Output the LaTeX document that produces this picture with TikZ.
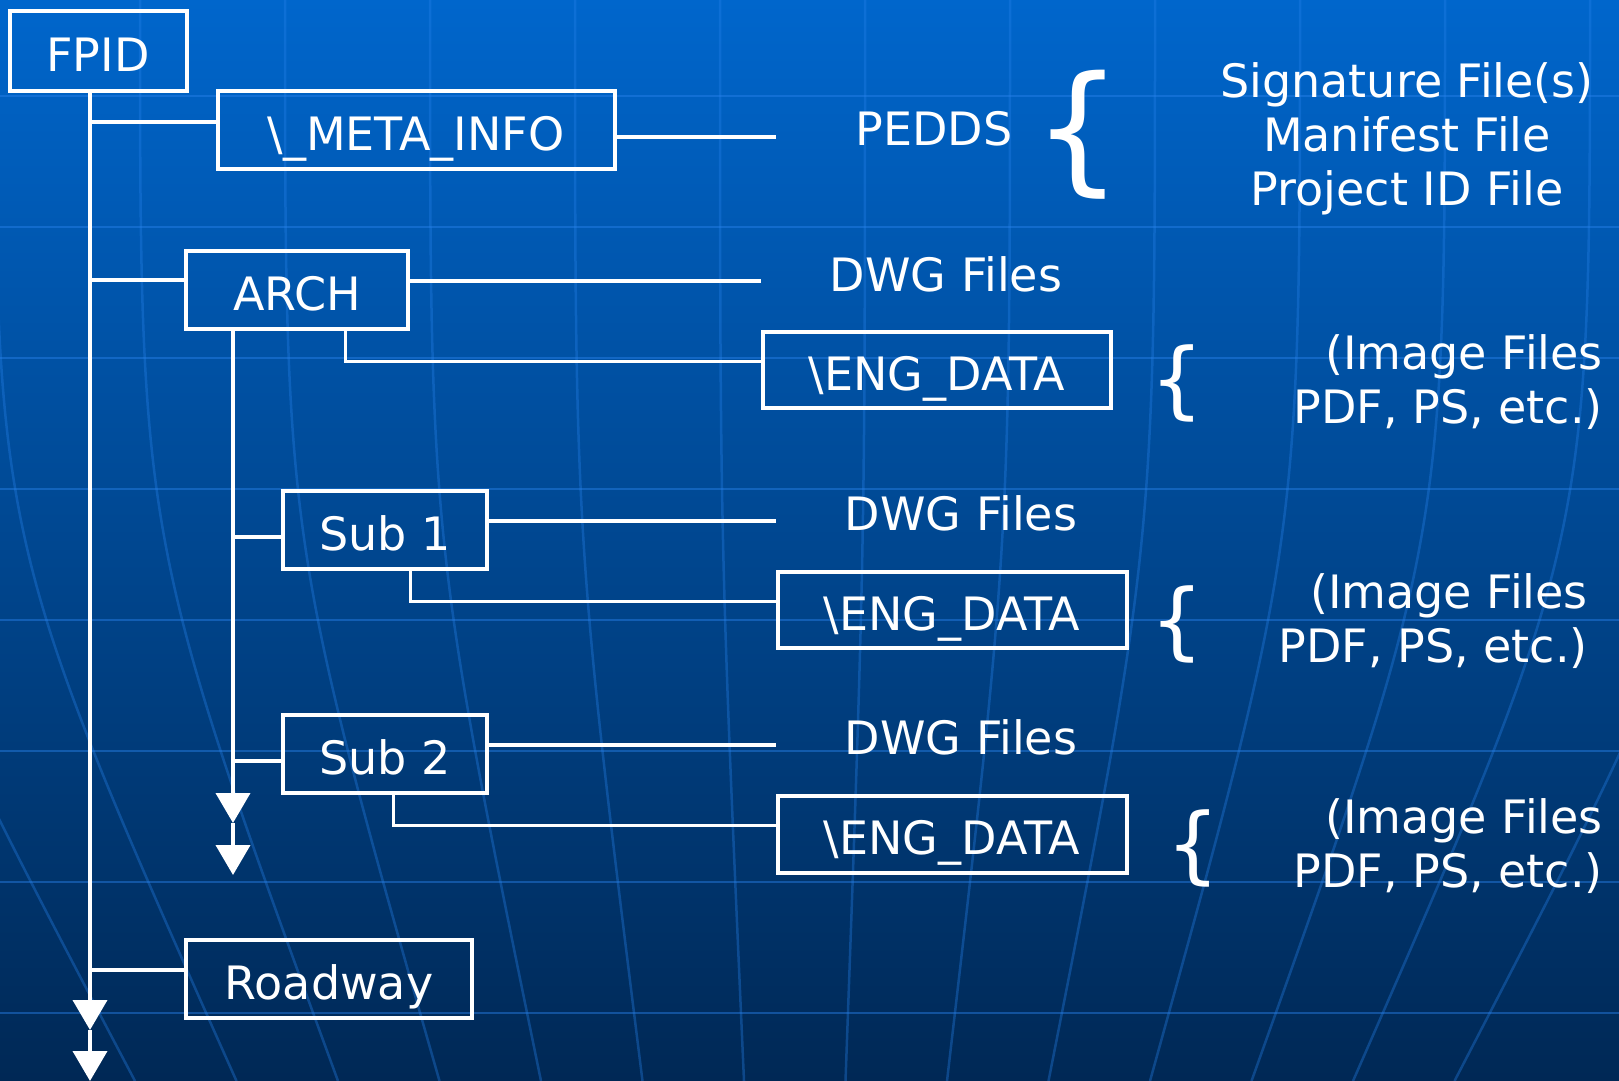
\documentclass[tikz,border=0pt]{standalone}
\usepackage{fontspec}
\setmainfont{DejaVu Sans}
\usetikzlibrary{arrows.meta}

\definecolor{bgtop}{RGB}{0,102,204}
\definecolor{bgmid}{RGB}{0,72,150}
\definecolor{bgbot}{RGB}{0,40,85}
\definecolor{gridblue}{RGB}{40,130,235}
\newcommand\bigtxt{\fontsize{46}{54}\selectfont}

\begin{document}
\begin{tikzpicture}[x=1pt,y=1pt,yscale=-1,
  lbl/.style={text=white,font=\bigtxt,inner sep=0pt},
  box/.style={lbl,draw=white,line width=4pt,minimum height=78pt,text height=40pt,text depth=0pt},
  link/.style={draw=white,line width=4pt},
  thin/.style={draw=white,line width=3pt},
  tip/.style={-{Triangle[width=34pt,length=30pt]}},
  gridln/.style={draw=gridblue,line width=2.5pt,opacity=0.45}]
\useasboundingbox (0,0) rectangle (1619,1081);
% background and globe grid
\shade[top color=bgtop,middle color=bgmid,bottom color=bgbot] (0,0) rectangle (1619,1081);
\begin{scope}
\clip (0,0) rectangle (1619,1081);
\foreach \y in {96,227,358,489,620,751,882,1013}
  \draw[gridln] (0,\y) -- (1619,\y);
\foreach \x in {-150,-5,140,285,430,575,720,865,1010,1155,1300,1445,1590,1735}
  \draw[gridln,opacity=0.35] (\x,0) .. controls (\x,540) .. ({800+(\x-800)*0.7},1081);
\end{scope}

% folder boxes
\node[box,minimum width=177pt,minimum height=80pt] (fpid) at (98,51) {FPID};
\node[box,minimum width=397pt] (meta) at (416,130) {\textbackslash\_META\_INFO};
\node[box,minimum width=222pt] (arch) at (297,290) {ARCH};
\node[box,minimum width=348pt,minimum height=76pt] (eng1) at (937,370) {\textbackslash ENG\_DATA};
\node[box,minimum width=204pt] (sub1) at (385,530) {Sub 1};
\node[box,minimum width=349pt,minimum height=76pt] (eng2) at (952,610) {\textbackslash ENG\_DATA};
\node[box,minimum width=204pt] (sub2) at (385,754) {Sub 2};
\node[box,minimum width=349pt,minimum height=77pt] (eng3) at (952,834) {\textbackslash ENG\_DATA};
\node[box,minimum width=286pt] (road) at (329,979) {Roadway};

% file labels
\node[lbl] (pedds) at (934,129) {PEDDS};
\node[lbl,font=\fontsize{140}{140}\selectfont] (br0) at (1078,135) {\{};
\node[lbl,align=center] (sig) at (1407,139) {Signature File(s)\\Manifest File\\Project ID File};
\node[lbl] (dwg1) at (946,274) {DWG Files};
\node[lbl] (dwg2) at (961,513) {DWG Files};
\node[lbl] (dwg3) at (961,737) {DWG Files};
\node[lbl,font=\fontsize{84}{84}\selectfont] (br1) at (1177,383) {\{};
\node[lbl,font=\fontsize{84}{84}\selectfont] (br2) at (1177,624) {\{};
\node[lbl,font=\fontsize{84}{84}\selectfont] (br3) at (1193,848) {\{};
\node[lbl,align=right,anchor=east] (img1) at (1603,382) {(Image Files\\PDF, PS, etc.)};
\node[lbl,align=right,anchor=east] (img2) at (1588,621) {(Image Files\\PDF, PS, etc.)};
\node[lbl,align=right,anchor=east] (img3) at (1603,846) {(Image Files\\PDF, PS, etc.)};

% trunk of FPID
\coordinate (jmeta) at (90,122);
\coordinate (jarch) at (90,280);
\coordinate (jroad) at (90,970);
\coordinate (tipA) at (90,1030);
\coordinate (tipB) at (90,1081);
\draw[link,tip] (fpid.south -| tipA) -- (tipA);
\draw[link,tip] (tipA) -- (tipB);
\draw[link] (jmeta) -- (jmeta -| meta.west);
\draw[link] (jarch) -- (jarch -| arch.west);
\draw[link] (jroad) -- (jroad -| road.west);

% trunk of ARCH
\coordinate (jsub1) at (233,537);
\coordinate (jsub2) at (233,761);
\coordinate (atipA) at (233,823);
\coordinate (atipB) at (233,875);
\draw[link,tip] (arch.south -| atipA) -- (atipA);
\draw[link,tip] (atipA) -- (atipB);
\draw[link] (jsub1) -- (jsub1 -| sub1.west);
\draw[link] (jsub2) -- (jsub2 -| sub2.west);

% lines out to the files
\coordinate (metaend) at (776,137);
\coordinate (archend) at (761,281);
\coordinate (sub1end) at (776,521);
\coordinate (sub2end) at (776,745);
\draw[link] (metaend -| meta.east) -- (metaend);
\draw[link] (archend -| arch.east) -- (archend);
\draw[link] (sub1end -| sub1.east) -- (sub1end);
\draw[link] (sub2end -| sub2.east) -- (sub2end);

% down to \ENG_DATA
\coordinate (keng1) at (345,361);
\coordinate (keng2) at (410,601);
\coordinate (keng3) at (393,825);
\draw[thin] (arch.south -| keng1) -- (keng1) -- (keng1 -| eng1.west);
\draw[thin] (sub1.south -| keng2) -- (keng2) -- (keng2 -| eng2.west);
\draw[thin] (sub2.south -| keng3) -- (keng3) -- (keng3 -| eng3.west);
\end{tikzpicture}
\end{document}
